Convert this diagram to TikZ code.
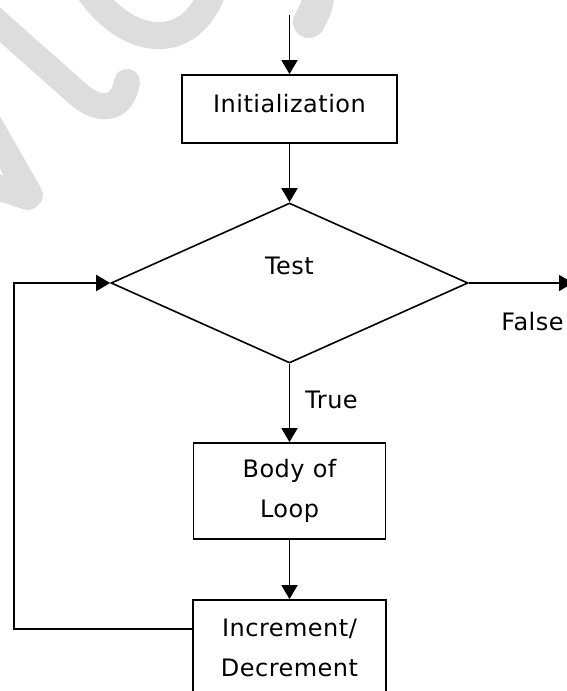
\documentclass[tikz,border=0pt]{standalone}
\usepackage{fontspec}
\setmainfont[LetterSpace=2]{DejaVu Sans}
\usetikzlibrary{arrows.meta,shapes.geometric}
\definecolor{wmgray}{RGB}{221,221,221}
\begin{document}
\begin{tikzpicture}[x=1pt,y=-1pt,
  every node/.style={font=\fontsize{24}{40}\selectfont},
  box/.style={draw, line width=1.8pt, inner sep=0pt, align=center},
  link/.style={line width=1.8pt, -{Triangle[length=14pt,width=16pt]}},
  wm/.style={draw=wmgray, line width=26pt, line cap=round}]
\useasboundingbox (0,0) rectangle (567,691);

% faint background strokes
\draw[wm] (-10,16) -- (78,94) .. controls (98,112) and (122,112) .. (127,82);
\draw[wm] (-10,125) -- (30,195);
\draw[wm] (-15,183) -- (28,197);
\draw[wm,line width=27pt] (85,-15) .. controls (125,48) and (190,55) .. (213,-10);
\draw[wm,line width=32pt] (318,-15) .. controls (318,5) .. (309,22);

% flowchart nodes
\coordinate (start) at (289.5,15);
\node[box, minimum width=215pt, minimum height=68pt, text height=17.5pt, text depth=11pt] (init) at (289.5,109) {Initialization};
\node[diamond, draw, line width=1.6pt, minimum width=357pt, minimum height=160pt, inner sep=0pt] (test) at (289.5,283) {};
\node (testlbl) at (289.5,266) {Test};
\coordinate (exit) at (573,283);
\node (falselbl) at (532.5,321.5) {False};
\node (truelbl) at (331.5,400) {True};
\node[box, minimum width=192pt, minimum height=96pt] (body) at (289.5,491) {Body of\\Loop};
\node[box, minimum width=193pt, minimum height=95pt] (inc) at (289.5,647.5) {Increment/\\Decrement};
\coordinate (back) at (14,629);

% connectors
\draw[link] (start) -- (init.north);
\draw[link] (init.south) -- (test.north);
\draw[link] (test.east) -- (exit);
\draw[link] (test.south) -- (body.north);
\draw[link] (body.south) -- (inc.north);
\draw[link] ([yshift=18.5pt]inc.west) -- (back) |- (test.west);
\end{tikzpicture}
\end{document}
